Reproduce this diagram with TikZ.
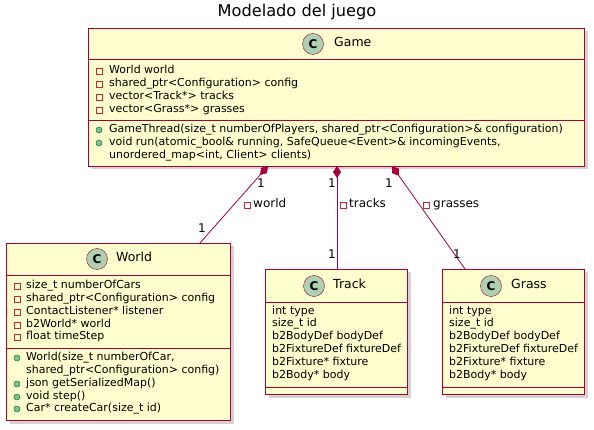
\documentclass[tikz,border=0pt]{standalone}
\usepackage{fontspec}
\setmainfont{DejaVu Sans}
\usetikzlibrary{arrows.meta,shadows}
\definecolor{umlfill}{HTML}{FEFECE}
\definecolor{umlborder}{HTML}{A80036}
\definecolor{circfill}{HTML}{ADD1B2}
\definecolor{privred}{HTML}{C82930}
\definecolor{pubfill}{HTML}{84BE84}
\definecolor{pubdraw}{HTML}{038048}
\tikzset{
  x=1pt, y=-1pt,
  classbox/.style={draw=umlborder, fill=umlfill, line width=1pt, anchor=north west, inner sep=0pt,
     drop shadow={shadow xshift=3pt, shadow yshift=-3pt, opacity=0.35, fill=gray}},
  sepline/.style={draw=umlborder, line width=1pt},
  member/.style={anchor=mid west, inner sep=0pt, font=\fontsize{11}{12}\selectfont},
  cname/.style={anchor=mid west, inner sep=0pt, font=\fontsize{12.5}{14}\selectfont},
  cicon/.style={circle, draw=umlborder, fill=circfill, minimum size=21pt, inner sep=0pt, font=\bfseries\fontsize{12}{12}\selectfont},
  privicon/.style={draw=privred, line width=0.7pt, fill=none, minimum size=6pt, inner sep=0pt},
  pubicon/.style={circle, draw=pubdraw, fill=pubfill, minimum size=6pt, inner sep=0pt, line width=0.5pt},
  assoc/.style={draw=umlborder, line width=0.8pt},
  comp/.style={assoc, {Diamond[length=12pt,width=8pt,fill=umlborder]}-},
  mult/.style={inner sep=0pt, font=\fontsize{12}{12}\selectfont},
  alabel/.style={anchor=mid west, inner sep=0pt, font=\fontsize{12}{12}\selectfont},
}
\begin{document}
\begin{tikzpicture}
\useasboundingbox (0,0) rectangle (594,430);
\node[font=\fontsize{16.2}{17}\selectfont] (title) at (297,12) {Modelado del juego};

% Game
\node[classbox, minimum width=496pt, minimum height=138pt] (game) at (88,28) {};
\draw[sepline] (88,60) -- (584,60);
\draw[sepline] (88,121) -- (584,121);
\node[cicon] (gamec) at (313,44) {C};
\node[cname] (gamen) at (334,44) {Game};
\foreach \y/\t [count=\i] in {71/World world, 84/shared\_ptr<Configuration> config, 97/vector<Track*> tracks, 110/vector<Grass*> grasses}{
  \node[privicon] (gpi\i) at (99,\y) {};
  \node[member] (gpt\i) at (109,\y) {\t};
}
\node[pubicon] (gm1i) at (99,130) {};
\node[member] (gm1) at (109,130) {GameThread(size\_t numberOfPlayers, shared\_ptr<Configuration>\& configuration)};
\node[pubicon] (gm2i) at (99,143) {};
\node[member] (gm2) at (109,143) {void run(atomic\_bool\& running, SafeQueue<Event>\& incomingEvents,};
\node[member] (gm3) at (109,156) {unordered\_map<int, Client> clients)};

% World
\node[classbox, minimum width=224pt, minimum height=177pt] (world) at (6,243) {};
\draw[sepline] (6,276) -- (230,276);
\draw[sepline] (6,348) -- (230,348);
\node[cicon] (worldc) at (97,259) {C};
\node[cname] (worldn) at (116,259) {World};
\foreach \y/\t [count=\i] in {286/size\_t numberOfCars, 299/shared\_ptr<Configuration> config, 312/ContactListener* listener, 325/b2World* world, 337/float timeStep}{
  \node[privicon] (wpi\i) at (17,\y) {};
  \node[member] (wpt\i) at (26,\y) {\t};
}
\node[pubicon] (wm1i) at (17,358) {};
\node[member] (wm1) at (26,358) {World(size\_t numberOfCar,};
\node[member] (wm1b) at (26,371) {shared\_ptr<Configuration> config)};
\node[pubicon] (wm2i) at (17,384) {};
\node[member] (wm2) at (26,384) {json getSerializedMap()};
\node[pubicon] (wm3i) at (17,397) {};
\node[member] (wm3) at (26,397) {void step()};
\node[pubicon] (wm4i) at (17,409) {};
\node[member] (wm4) at (26,409) {Car* createCar(size\_t id)};

% Track
\node[classbox, minimum width=142pt, minimum height=125pt] (track) at (265,269) {};
\draw[sepline] (265,302) -- (407,302);
\draw[sepline] (265,387) -- (407,387);
\node[cicon] (trackc) at (314,286) {C};
\node[cname] (trackn) at (333,286) {Track};
\foreach \y/\t [count=\i] in {312/int type, 324/size\_t id, 337/b2BodyDef bodyDef, 350/b2FixtureDef fixtureDef, 363/b2Fixture* fixture, 376/b2Body* body}{
  \node[member] (tf\i) at (272,\y) {\t};
}

% Grass
\node[classbox, minimum width=142pt, minimum height=125pt] (grass) at (442,269) {};
\draw[sepline] (442,302) -- (584,302);
\draw[sepline] (442,387) -- (584,387);
\node[cicon] (grassc) at (491,286) {C};
\node[cname] (grassn) at (511,286) {Grass};
\foreach \y/\t [count=\i] in {312/int type, 324/size\_t id, 337/b2BodyDef bodyDef, 350/b2FixtureDef fixtureDef, 363/b2Fixture* fixture, 376/b2Body* body}{
  \node[member] (gf\i) at (449,\y) {\t};
}

% Connectors
\coordinate (gw) at (268,166);
\coordinate (wg) at (200,243);
\coordinate (gt) at (337,166);
\coordinate (tg) at (337,269);
\coordinate (gg) at (392,166);
\coordinate (ggr) at (465,269);
\draw[comp] (gw) -- (wg);
\draw[comp] (gt) -- (tg);
\draw[comp] (gg) -- (ggr);

\node[mult] (m1) at (261,183) {1};
\node[mult] (m2) at (202,228) {1};
\node[mult] (m3) at (332,183) {1};
\node[mult] (m4) at (332,254) {1};
\node[mult] (m5) at (389,183) {1};
\node[mult] (m6) at (457,254) {1};

\node[privicon] (l1i) at (247,205) {};
\node[alabel] (l1) at (253,205) {world};
\node[privicon] (l2i) at (343,205) {};
\node[alabel] (l2) at (349,205) {tracks};
\node[privicon] (l3i) at (426,205) {};
\node[alabel] (l3) at (433,205) {grasses};
\end{tikzpicture}
\end{document}
